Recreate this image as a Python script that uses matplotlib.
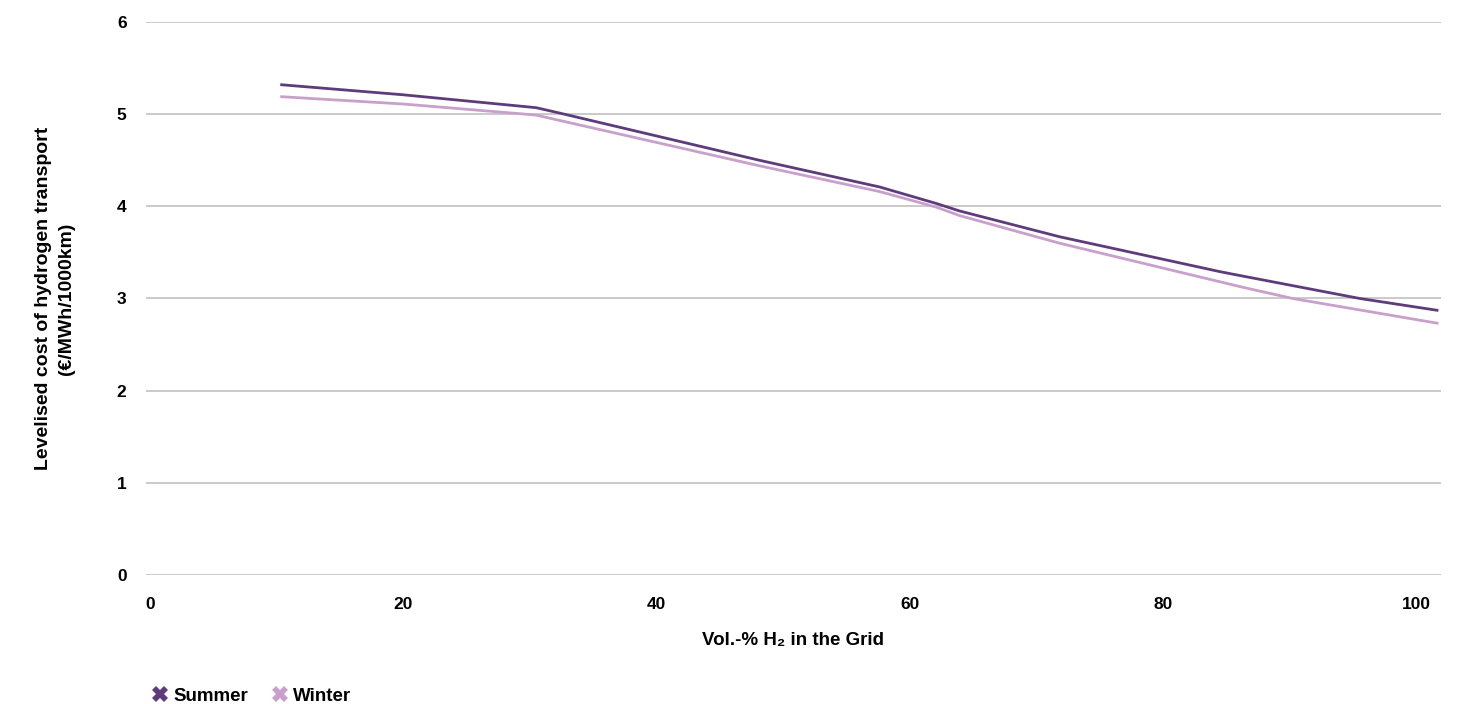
#=========================================================================
# h2-transport-cost-plot.py
#=========================================================================

import matplotlib.pyplot as plt
from matplotlib.lines import Line2D

#-------------------------------------------------------------------------
# Configure matplotlib
#-------------------------------------------------------------------------

plt.rcParams['font.family'] = ['Liberation Sans', 'DejaVu Sans']
plt.rcParams['font.weight'] = 'bold'

#-------------------------------------------------------------------------
# Get data
#-------------------------------------------------------------------------

# Vol.-% H2 in the grid

summer_x = [10.3, 20.0, 30.5, 32.4, 48.1, 57.6, 62.1, 63.9, 71.8, 84.5, 86.0, 95.5, 101.7]
summer_y = [5.32, 5.21, 5.07, 5.01, 4.50, 4.21, 4.03, 3.95, 3.67, 3.29, 3.25, 3.00, 2.87]

winter_x = [10.3, 20.0, 30.5, 32.4, 48.1, 57.6, 62.1, 63.9, 71.8, 84.5, 86.0, 90.2, 101.7]
winter_y = [5.19, 5.11, 4.99, 4.93, 4.44, 4.16, 3.99, 3.90, 3.60, 3.18, 3.13, 3.00, 2.73]

series = ['Summer', 'Winter']

x_ticks = [0, 20, 40, 60, 80, 100]
y_ticks = [0, 1, 2, 3, 4, 5, 6]

#-------------------------------------------------------------------------
# Plot parameters
#-------------------------------------------------------------------------

colors = [
  '#5e3c7b',
  '#c8a0cb',
]

grid_color = '#c6c6c6'

#-------------------------------------------------------------------------
# Create plot
#-------------------------------------------------------------------------

fig = plt.figure( figsize=(14.58, 7.04), dpi=100 )
ax  = fig.add_axes( [0.1001, 0.1832, 0.8882, 0.7856] )

ax.plot( summer_x, summer_y, color=colors[0], linewidth=2.0, solid_capstyle='butt' )
ax.plot( winter_x, winter_y, color=colors[1], linewidth=2.0, solid_capstyle='butt' )

ax.set_xlim( -0.3, 101.9 )
ax.set_ylim( 0, 6 )

ax.set_xticks( x_ticks )
ax.set_yticks( y_ticks )

ax.tick_params( axis='both', length=0, labelsize=12.5 )
ax.tick_params( axis='y', pad=14 )
ax.tick_params( axis='x', pad=16 )

for lbl in ax.get_xticklabels() + ax.get_yticklabels():
  lbl.set_fontweight( 'bold' )

ax.yaxis.grid( True, color=grid_color, linewidth=1.3 )
ax.xaxis.grid( False )
ax.set_axisbelow( True )

for side in ['top', 'right', 'bottom', 'left']:
  ax.spines[side].set_visible( False )

ax.set_xlabel( 'Vol.-% H₂ in the Grid', fontsize=13.5,
               fontweight='bold', labelpad=14 )
ax.set_ylabel( 'Levelised cost of hydrogen transport\n(€/MWh/1000km)',
               fontsize=14, fontweight='bold', labelpad=30, linespacing=1.5 )

# Legend

handles = [ Line2D( [], [], marker='X', linestyle='none', markersize=11,
                    color=c, markeredgewidth=0 ) for c in colors ]

fig.legend( handles, series, loc='lower left', bbox_to_anchor=(0.092, -0.025),
            ncol=2, frameon=False, prop={'size':13.5, 'weight':'bold'},
            handletextpad=0.2, columnspacing=1.2, handlelength=1.0 )

#-------------------------------------------------------------------------
# Save
#-------------------------------------------------------------------------

fig.savefig( 'out.png', dpi=100 )
